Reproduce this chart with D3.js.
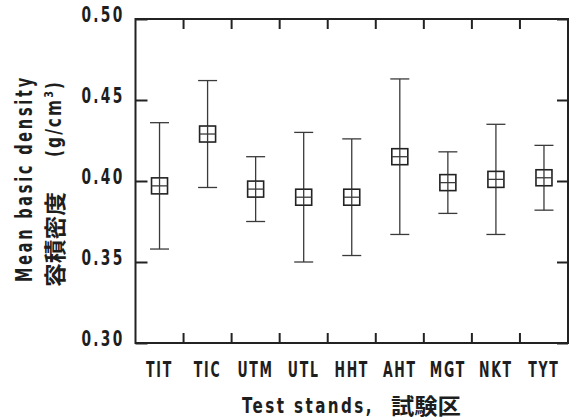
<!DOCTYPE html>
<html>
<head>
<meta charset="utf-8">
<script src="https://cdn.jsdelivr.net/npm/d3@7"></script>
<style>
  body { margin: 0; background: #fff; }
  svg { display: block; }
  .lbl { font-family: "DejaVu Sans Condensed", "DejaVu Sans", sans-serif; font-weight: bold; fill: #1e1e1e; }
  .jp { font-family: "Noto Sans CJK JP", sans-serif; font-weight: bold; fill: #1e1e1e; }
</style>
</head>
<body>
<div class="chart"></div>
<script>
// test stands and density stats (g/cm3)
const stands = ["TIT", "TIC", "UTM", "UTL", "HHT", "AHT", "MGT", "NKT", "TYT"];
const means  = [0.397, 0.429, 0.395, 0.390, 0.390, 0.415, 0.399, 0.401, 0.402];
const upper  = [0.436, 0.462, 0.415, 0.430, 0.426, 0.463, 0.418, 0.435, 0.422];
const lower  = [0.358, 0.396, 0.375, 0.350, 0.354, 0.367, 0.380, 0.367, 0.382];
const yTicks = [0.30, 0.35, 0.40, 0.45, 0.50];

const data = stands.map((s, i) => ({stand: s, mean: means[i], hi: upper[i], lo: lower[i]}));

const W = 571, H = 420;
const margin = {top: 19, right: 3, bottom: 77, left: 135.5};

const svg = d3.select(".chart").append("svg")
    .attr("width", W)
    .attr("height", H);

const xScale = d3.scaleBand()
    .domain(stands)
    .range([margin.left, W - margin.right]);

const yScale = d3.scaleLinear()
    .domain([0.3, 0.5])
    .range([H - margin.bottom, margin.top]);

const x0 = margin.left, x1 = W - margin.right;
const y0 = H - margin.bottom, y1 = margin.top;

// the original uses a narrow gothic face, so squeeze text sideways
// (pre = transform placed before the squeeze, e.g. a rotation)
function squeeze(sel, k, pre) {
    sel.attr("transform", `${pre || ""} scale(${k},1)`);
}
// squeeze to a given total width
function fitTo(sel, w, pre) {
    const n = sel.node().getComputedTextLength();
    squeeze(sel, w / n, pre);
}

// left axis, ticks pointing inward
svg.append("g")
    .attr("transform", `translate(${x0},0)`)
    .call(d3.axisLeft(yScale).tickValues(yTicks).tickFormat(d3.format(".2f"))
        .tickSizeInner(-12).tickSizeOuter(0).tickPadding(11))
    .call(g => g.select(".domain").remove())
    .call(g => g.selectAll(".tick line").attr("stroke", "#222").attr("stroke-width", 2))
    .call(g => g.selectAll(".tick text")
        .attr("class", "lbl")
        .attr("font-size", 20.5)
        .attr("letter-spacing", 3)
        .attr("dy", "0.12em")
        .each(function() {
            const t = d3.select(this);
            const k = 43 / this.getComputedTextLength();
            t.attr("x", -11 / k);
            squeeze(t, k);
        }));

// right axis, inward ticks no labels
svg.append("g")
    .attr("transform", `translate(${x1},0)`)
    .call(d3.axisRight(yScale).tickValues(yTicks).tickFormat("")
        .tickSizeInner(-11).tickSizeOuter(0))
    .call(g => g.select(".domain").remove())
    .call(g => g.selectAll(".tick line").attr("stroke", "#222").attr("stroke-width", 2));

// bottom axis labels
svg.append("g")
    .attr("transform", `translate(0,${y0})`)
    .call(d3.axisBottom(xScale).tickSize(0).tickPadding(20))
    .call(g => g.select(".domain").remove())
    .call(g => g.selectAll(".tick text")
        .attr("class", "lbl")
        .attr("font-size", 20.5)
        .attr("letter-spacing", 2.5)
        .attr("dy", "0.68em")
        .call(squeeze, 0.68));

// ticks between stands, top and bottom
const between = stands.slice(1);
svg.append("g")
    .attr("stroke", "#222")
    .attr("stroke-width", 2)
    .selectAll("line")
    .data(between)
    .join("line")
    .attr("x1", d => xScale(d))
    .attr("x2", d => xScale(d))
    .attr("y1", y0)
    .attr("y2", y0 - 10);

svg.append("g")
    .attr("stroke", "#222")
    .attr("stroke-width", 2)
    .selectAll("line")
    .data(between)
    .join("line")
    .attr("x1", d => xScale(d))
    .attr("x2", d => xScale(d))
    .attr("y1", y1)
    .attr("y2", y1 + 10);

// frame
svg.append("rect")
    .attr("x", x0)
    .attr("y", y1)
    .attr("width", x1 - x0)
    .attr("height", y0 - y1)
    .attr("fill", "none")
    .attr("stroke", "#222")
    .attr("stroke-width", 2);

// error bars
const cap = 19, box = 16;
const bars = svg.append("g")
    .attr("stroke", "#3a3a3a")
    .attr("stroke-width", 1.3)
    .selectAll("g")
    .data(data)
    .join("g")
    .attr("transform", d => `translate(${xScale(d.stand) + xScale.bandwidth() / 2},0)`);

bars.append("line")
    .attr("y1", d => yScale(d.lo))
    .attr("y2", d => yScale(d.hi));
bars.append("line")
    .attr("x1", -cap / 2).attr("x2", cap / 2)
    .attr("y1", d => yScale(d.hi)).attr("y2", d => yScale(d.hi));
bars.append("line")
    .attr("x1", -cap / 2).attr("x2", cap / 2)
    .attr("y1", d => yScale(d.lo)).attr("y2", d => yScale(d.lo));
bars.append("rect")
    .attr("x", -box / 2)
    .attr("y", d => yScale(d.mean) - box / 2)
    .attr("width", box)
    .attr("height", box)
    .attr("fill", "#fff")
    .attr("stroke", "#222")
    .attr("stroke-width", 1.6);
bars.append("line")
    .attr("x1", -box / 2).attr("x2", box / 2)
    .attr("y1", d => yScale(d.mean)).attr("y2", d => yScale(d.mean));
bars.append("line")
    .attr("y1", d => yScale(d.mean) - box / 2)
    .attr("y2", d => yScale(d.mean) + box / 2);

// x title
svg.append("text")
    .attr("class", "lbl")
    .attr("font-size", 21)
    .attr("letter-spacing", 3)
    .text("Test stands,")
    .call(fitTo, 132, "translate(242,413)");
svg.append("text")
    .attr("class", "jp")
    .attr("font-size", 22)
    .text("試験区")
    .call(fitTo, 70, "translate(391,414)");

// y title, two rotated lines
svg.append("text")
    .attr("class", "lbl")
    .attr("font-size", 23)
    .attr("letter-spacing", 4)
    .text("Mean basic density")
    .call(fitTo, 207, "translate(32,282) rotate(-90)");

svg.append("text")
    .attr("class", "jp")
    .attr("font-size", 22)
    .text("容積密度")
    .call(fitTo, 95, "translate(63,287) rotate(-90)");

const unit = svg.append("text")
    .attr("class", "lbl")
    .attr("font-size", 21)
    .attr("letter-spacing", 2.5);
unit.append("tspan").text("(g/cm");
unit.append("tspan").attr("dy", -8).attr("font-size", 13).text("3");
unit.append("tspan").attr("dy", 8).text(")");
unit.call(fitTo, 77, "translate(61,157) rotate(-90)");
</script>
</body>
</html>
